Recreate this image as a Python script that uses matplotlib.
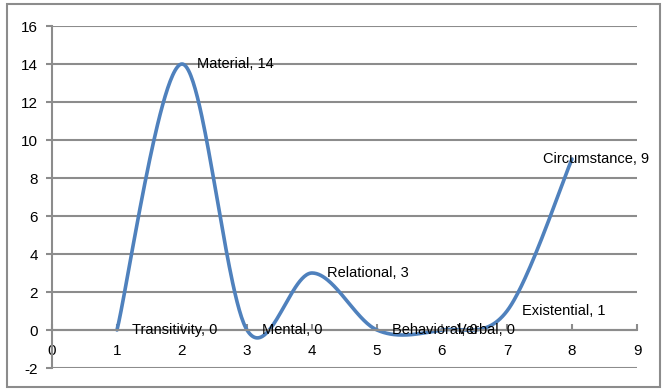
import numpy as np
import matplotlib.pyplot as plt
from matplotlib.patches import Rectangle

# process types and counts
categories = ['Transitivity', 'Material', 'Mental', 'Relational',
              'Behavioral', 'Verbal', 'Existential', 'Circumstance']
x_vals = [1, 2, 3, 4, 5, 6, 7, 8]
counts = [0, 14, 0, 3, 0, 0, 1, 9]


def smooth_curve(xs, ys, n=60):
    # bezier smoothing through every point, like a spreadsheet "smoothed line"
    pts = np.column_stack([xs, ys]).astype(float)
    padded = np.vstack([pts[0], pts, pts[-1]])
    out = []
    for i in range(len(pts) - 1):
        p0, p1 = padded[i + 1], padded[i + 2]
        c1 = p0 + (padded[i + 2] - padded[i]) / 6.0
        c2 = p1 - (padded[i + 3] - padded[i + 1]) / 6.0
        t = np.linspace(0, 1, n)[:, None]
        seg = ((1 - t) ** 3) * p0 + 3 * ((1 - t) ** 2) * t * c1 \
            + 3 * (1 - t) * t ** 2 * c2 + t ** 3 * p1
        out.append(seg if i == 0 else seg[1:])
    seg = np.vstack(out)
    return seg[:, 0], seg[:, 1]


plt.rcParams['font.family'] = 'Liberation Sans'
plt.rcParams['axes.unicode_minus'] = False
fig = plt.figure(figsize=(6.65, 3.89), dpi=100)
ax = fig.add_axes([52 / 665, 1 - 368 / 389, 585 / 665, 342 / 389])

grid_col = '#8c8c8c'
ax.set_xlim(0, 9)
ax.set_ylim(-2, 16)
ax.set_yticks(range(-2, 17, 2))
ax.set_xticks(range(0, 10))
ax.yaxis.grid(True, color=grid_col, linewidth=1.5)
ax.set_axisbelow(True)

for side in ['top', 'right']:
    ax.spines[side].set_visible(False)
ax.spines['left'].set_color(grid_col)
ax.spines['left'].set_linewidth(1.5)
ax.spines['bottom'].set_position(('data', 0))
ax.spines['bottom'].set_color(grid_col)
ax.spines['bottom'].set_linewidth(1.5)

ax.tick_params(axis='y', direction='out', length=4, width=1.5, color=grid_col,
               labelsize=11, pad=6)
ax.tick_params(axis='x', direction='in', length=4, width=1.5, color=grid_col,
               labelsize=11, pad=10)

sx, sy = smooth_curve(x_vals, counts)
ax.plot(sx, sy, color='#4f81bd', linewidth=2.6, solid_capstyle='round', clip_on=False)

for name, x, v in zip(categories, x_vals, counts):
    dx = -29 if name == 'Circumstance' else 15
    ax.annotate(f'{name}, {v}', (x, v), xytext=(dx, 0), textcoords='offset pixels',
                ha='left', va='center', fontsize=10.5, annotation_clip=False)

# outer chart border
fig.patches.append(Rectangle((7 / 665, 2 / 389), 653 / 665, 383 / 389,
                             transform=fig.transFigure, fill=False,
                             edgecolor=grid_col, linewidth=1.5))

fig.savefig('out.png', dpi=100)
